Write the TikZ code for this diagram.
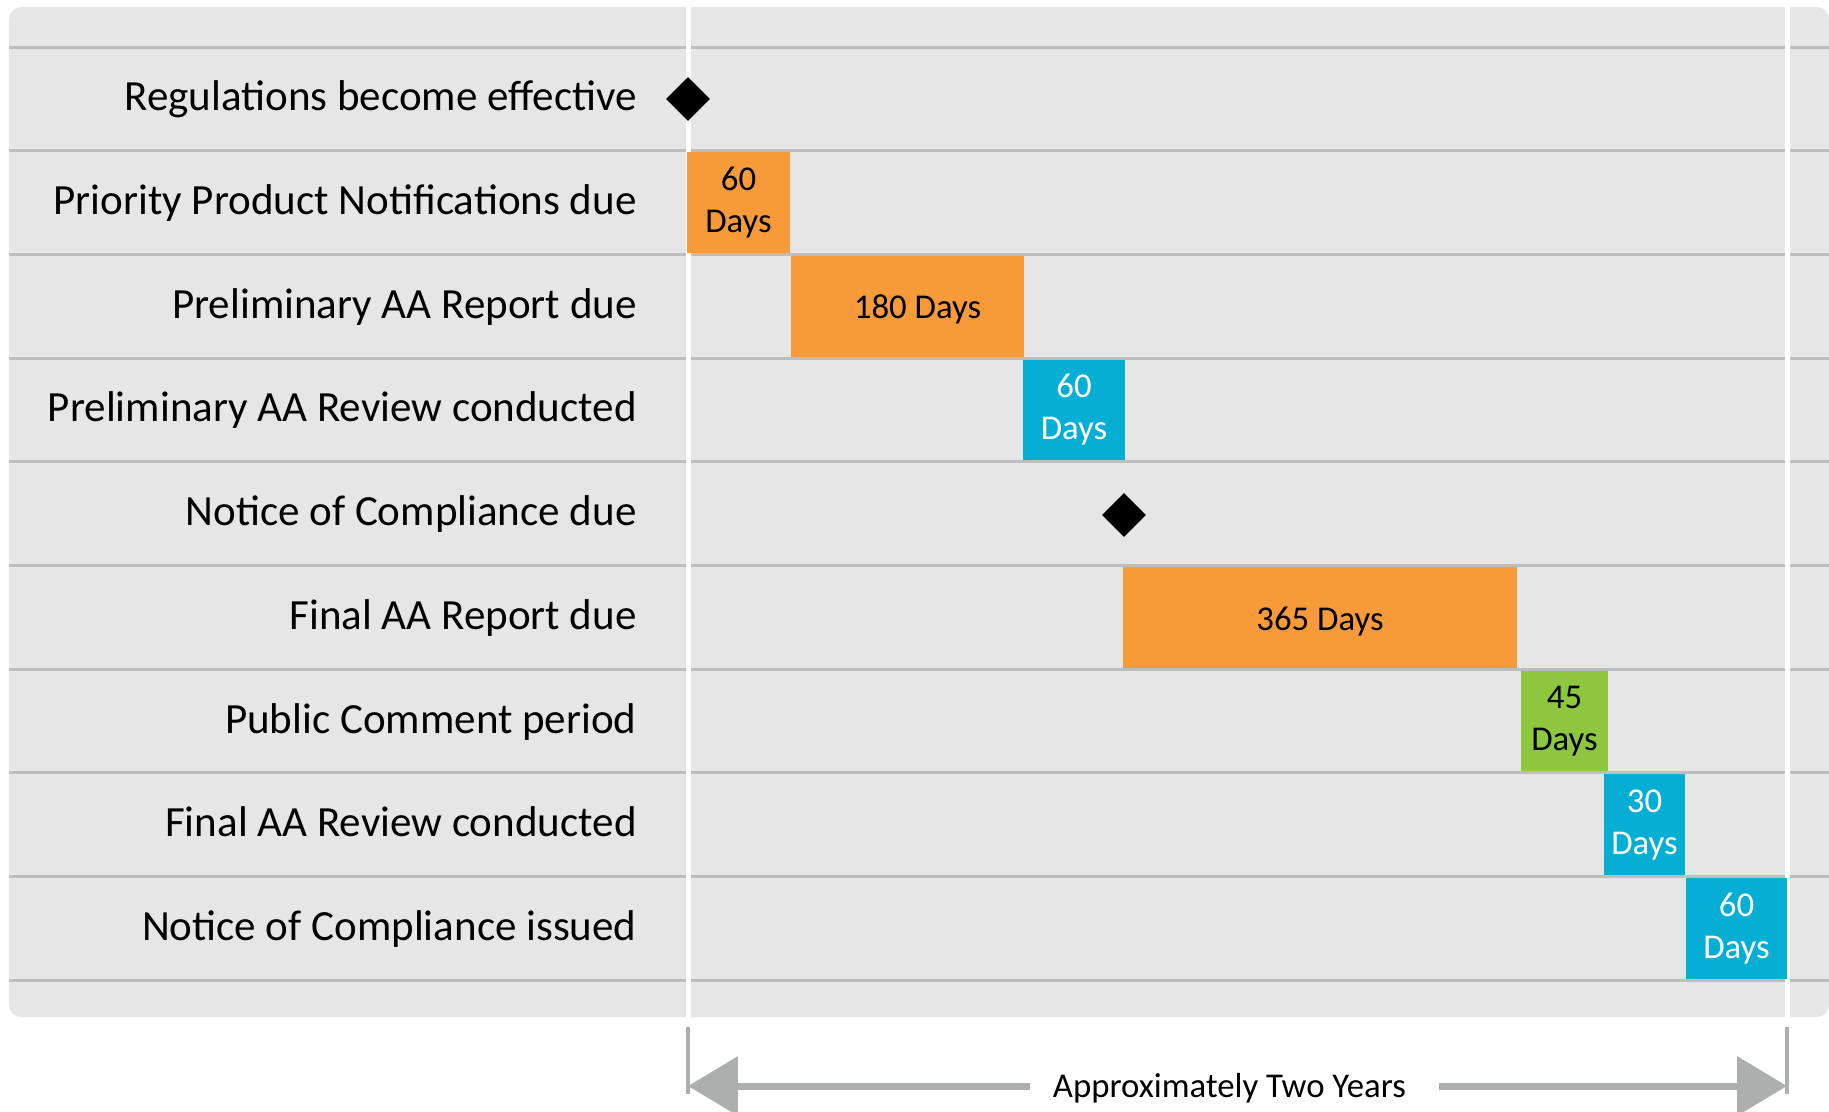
\documentclass[tikz,border=0pt]{standalone}
\usepackage{fontspec}
\setmainfont{Carlito}
\usetikzlibrary{shapes.geometric,arrows.meta}

\definecolor{panelgray}{RGB}{230,230,230}
\definecolor{rulegray}{RGB}{190,190,190}
\definecolor{arrowgray}{RGB}{173,175,175}
\definecolor{barorange}{RGB}{247,154,57}
\definecolor{barblue}{RGB}{7,174,212}
\definecolor{bargreen}{RGB}{141,198,63}

\begin{document}
\begin{tikzpicture}[x=0.02cm, y=-0.02cm,
		rowlbl/.style={anchor=base east, inner sep=0pt, font=\fontsize{24.5pt}{29pt}\selectfont},
		daylbl/.style={align=center, inner sep=0pt, font=\fontsize{19.8pt}{23.8pt}\selectfont},
		milestone/.style={diamond, fill=black, inner sep=0pt, minimum size=0.88cm},
		spanlbl/.style={anchor=base, inner xsep=0.45cm, inner ysep=0pt, font=\fontsize{19.8pt}{22.1pt}\selectfont},
		spanarrow/.style={arrowgray, line width=0.14cm, -{Triangle[length=1cm, width=1.16cm]}}]
		\useasboundingbox (0,0) rectangle (1829,1112);
		
		% Background panel
		\fill[panelgray, rounded corners=0.24cm] (9,7) rectangle (1829,1017);
		
		% Row rules
		\foreach \k in {0,...,9}
		\draw[rulegray, line width=0.06cm] (9,{47+103.7*\k}) -- (1829,{47+103.7*\k});
		
		% Start and end of the time span
		\foreach \x in {688,1787}
		\draw[white, line width=0.1cm] (\x,7) -- (\x,1017);
		
		% Bars
		\foreach \xa/\xb/\r/\col/\tc/\dx/\dy/\txt [count=\i] in {
				687/790/2/barorange/black/0/0/{60\\Days},
				791/1024/3/barorange/black/10/3/{180 Days},
				1023/1125/4/barblue/white/0/0/{60\\Days},
				1123/1517/6/barorange/black/0/4/{365 Days},
				1521/1608/7/bargreen/black/0/0/{45\\Days},
				1604/1685/8/barblue/white/0/0/{30\\Days},
				1686/1787/9/barblue/white/0/0/{60\\Days}}{
			\fill[\col] (\xa,{47+103.7*(\r-1)+1.5}) rectangle (\xb,{47+103.7*\r-1.5});
			\node[daylbl, text=\tc] (bar\i) at ({(\xa+\xb)/2+\dx},{47+103.7*(\r-0.5)+\dy}) {\txt};
		}
		
		% Row labels
		\foreach \txt [count=\i] in {Regulations become effective,
				Priority Product Notifications due,
				Preliminary AA Report due,
				Preliminary AA Review conducted,
				Notice of Compliance due,
				Final AA Report due,
				Public Comment period,
				Final AA Review conducted,
				Notice of Compliance issued}
		\node[rowlbl] (lbl\i) at (637,{47+103.7*(\i-0.5)+12}) {\txt};
		
		% Milestones
		\node[milestone] (effective) at (688,99) {};
		\node[milestone] (notice) at (1124,515) {};
		
		% Span of two years
		\coordinate (tipL) at (688,1086);
		\coordinate (tipR) at (1787,1086);
		\foreach \x in {688,1787}
		\draw[arrowgray, line width=0.09cm] (\x,1027) -- (\x,1094);
		\node[spanlbl] (years) at (1229.5,1097) {Approximately Two Years};
		\draw[spanarrow] (years.west |- tipL) -- (tipL);
		\draw[spanarrow] ([xshift=0.2cm]years.east |- tipR) -- (tipR);
	\end{tikzpicture}
\end{document}
